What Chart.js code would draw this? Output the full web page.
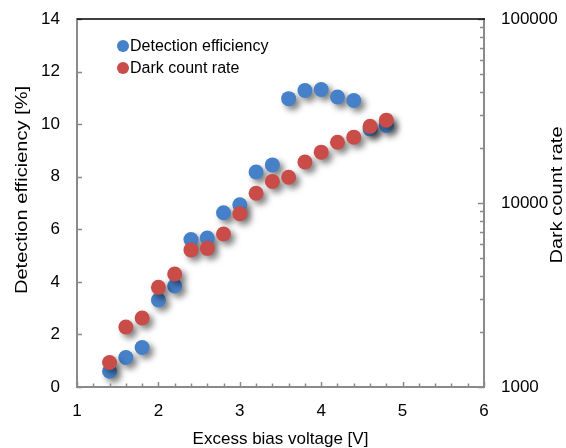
<!DOCTYPE html>
<html>
<head>
<meta charset="utf-8">
<script src="https://cdn.jsdelivr.net/npm/chart.js@4.4.1/dist/chart.umd.min.js"></script>
<style>
  html, body { margin: 0; padding: 0; background: #fff; }
  #wrap { position: relative; width: 566px; height: 448px; }
  #legend {
    position: absolute; left: 117px; top: 35px;
    font: 16px "Liberation Sans", Arial, sans-serif; color: #000;
  }
  .legend-item { display: flex; align-items: center; height: 22px; }
  .legend-dot { width: 12px; height: 12px; border-radius: 50%; margin-right: 1px; }
</style>
</head>
<body>
<div id="wrap">
  <canvas id="chart" width="566" height="448"></canvas>
  <div id="legend"></div>
</div>
<script>
// Excess bias voltage [V]
const voltage    = [1.4, 1.6, 1.8, 2.0, 2.2, 2.4, 2.6, 2.8, 3.0, 3.2, 3.4, 3.6, 3.8, 4.0, 4.2, 4.4, 4.6, 4.8];
// Detection efficiency [%] (left axis)
const efficiency = [0.6, 1.12, 1.5, 3.31, 3.84, 5.61, 5.67, 6.63, 6.93, 8.18, 8.45, 10.97, 11.28, 11.32, 11.03, 10.9, 9.82, 9.95];
// Dark count rate (right axis, log)
const darkCount  = [1360, 2120, 2370, 3480, 4110, 5560, 5670, 6790, 8740, 11300, 13100, 13800, 16700, 18900, 21400, 22800, 26100, 28200];

const xTicks     = [1, 2, 3, 4, 5, 6];
const leftTicks  = [0, 2, 4, 6, 8, 10, 12, 14];
const rightTicks = [1000, 10000, 100000];

const COLOURS = {
  efficiency: '#4680c8',
  darkCount:  '#c94c48',
  axis:       '#8a8a8a',
};
const FONT = '"Liberation Sans", Arial, sans-serif';

Chart.defaults.font.family = FONT;
Chart.defaults.font.size = 17;
Chart.defaults.color = '#000';

// soft drop shadow under the markers
const shadowPlugin = {
  id: 'markerShadow',
  beforeDatasetsDraw(chart) {
    const ctx = chart.ctx;
    ctx.save();
    ctx.shadowColor = 'rgba(0,0,0,0.5)';
    ctx.shadowBlur = 6;
    ctx.shadowOffsetX = 4;
    ctx.shadowOffsetY = 4;
  },
  afterDatasetsDraw(chart) {
    chart.ctx.restore();
  },
};

// inward tick marks, black top line and the rotated axis titles
const framePlugin = {
  id: 'frame',
  afterDraw(chart) {
    const { ctx, chartArea: a, scales } = chart;
    const x = scales.x, yl = scales.y, yr = scales.y2;
    ctx.save();
    ctx.strokeStyle = COLOURS.axis;
    ctx.lineWidth = 1.5;
    ctx.beginPath();
    // bottom: major + minor every 0.2
    for (let i = 0; i <= 25; i++) {
      const px = Math.round(x.getPixelForValue(1 + i * 0.2)) + 0.5;
      const len = i % 5 === 0 ? 5 : 3.5;
      ctx.moveTo(px, a.bottom); ctx.lineTo(px, a.bottom - len);
    }
    // left majors
    leftTicks.forEach(v => {
      const py = Math.round(yl.getPixelForValue(v)) + 0.5;
      ctx.moveTo(a.left, py); ctx.lineTo(a.left + 5, py);
    });
    // right log majors + minors
    for (let d = 1000; d < 100000; d *= 10) {
      for (let m = 1; m <= 10; m++) {
        const py = Math.round(yr.getPixelForValue(d * m)) + 0.5;
        const len = (m === 1 || m === 10) ? 6 : 4;
        ctx.moveTo(a.right, py); ctx.lineTo(a.right - len, py);
      }
    }
    ctx.stroke();

    // top line
    ctx.strokeStyle = '#000';
    ctx.lineWidth = 1.6;
    ctx.beginPath();
    ctx.moveTo(a.left, a.top); ctx.lineTo(a.right + 1, a.top);
    ctx.stroke();

    // vertical titles (stretched along their length like the original)
    ctx.fillStyle = '#000';
    ctx.font = '17px ' + FONT;
    ctx.textAlign = 'center';
    ctx.textBaseline = 'middle';
    const drawV = (text, cx, cy) => {
      ctx.save();
      ctx.translate(cx, cy);
      ctx.rotate(-Math.PI / 2);
      ctx.scale(1.18, 1);
      ctx.fillText(text, 0, 0);
      ctx.restore();
    };
    drawV('Detection efficiency [%]', 22, 190);
    drawV('Dark count rate', 557, 195);
    ctx.restore();
  },
};

const axisBorder = { display: true, color: COLOURS.axis, width: 2 };

// fixed axis boxes so the plot area lands where the original has it
const fitVertical = width => s => {
  s.width = width;
  s.paddingTop = 0;
  s.paddingBottom = 0;
};

new Chart(document.getElementById('chart'), {
  type: 'scatter',
  data: {
    datasets: [
      {
        label: 'Detection efficiency',
        data: voltage.map((v, i) => ({ x: v, y: efficiency[i] })),
        yAxisID: 'y',
        backgroundColor: COLOURS.efficiency,
        borderWidth: 0,
        pointRadius: 7.5,
        order: 1,
      },
      {
        label: 'Dark count rate',
        data: voltage.map((v, i) => ({ x: v, y: darkCount[i] })),
        yAxisID: 'y2',
        backgroundColor: COLOURS.darkCount,
        borderWidth: 0,
        pointRadius: 7.5,
        order: 0,
      },
    ],
  },
  options: {
    responsive: false,
    animation: false,
    events: [],
    layout: { padding: { top: 19, left: 0, right: 0, bottom: 0 } },
    plugins: {
      legend: { display: false },
      tooltip: { enabled: false },
    },
    scales: {
      x: {
        type: 'linear',
        min: xTicks[0],
        max: xTicks[xTicks.length - 1],
        afterBuildTicks(s) { s.ticks = xTicks.map(v => ({ value: v })); },
        afterFit(s) { s.height = 61; s.paddingLeft = 0; s.paddingRight = 0; },
        ticks: { padding: 14, maxRotation: 0, callback: v => String(v) },
        grid: { display: false, drawTicks: false },
        border: axisBorder,
        title: { display: true, text: 'Excess bias voltage [V]', font: { size: 17 }, padding: { top: 0, bottom: -2 } },
      },
      y: {
        type: 'linear',
        position: 'left',
        min: leftTicks[0],
        max: leftTicks[leftTicks.length - 1],
        afterBuildTicks(s) { s.ticks = leftTicks.map(v => ({ value: v })); },
        afterFit: fitVertical(77),
        ticks: { padding: 17, callback: v => String(v) },
        grid: { display: false, drawTicks: false },
        border: axisBorder,
      },
      y2: {
        type: 'logarithmic',
        position: 'right',
        min: rightTicks[0],
        max: rightTicks[rightTicks.length - 1],
        afterBuildTicks(s) { s.ticks = rightTicks.map(v => ({ value: v })); },
        afterFit: fitVertical(82),
        ticks: { padding: 17, callback: v => String(v) },
        grid: { display: false, drawTicks: false },
        border: axisBorder,
      },
    },
  },
  plugins: [shadowPlugin, framePlugin],
});

// legend inside the plot, top-left
const legendItems = [
  { label: 'Detection efficiency', color: COLOURS.efficiency },
  { label: 'Dark count rate',      color: COLOURS.darkCount },
];
document.getElementById('legend').innerHTML = legendItems.map(item => `
  <div class="legend-item">
    <div class="legend-dot" style="background:${item.color}"></div>
    <span>${item.label}</span>
  </div>
`).join('');
</script>
</body>
</html>
